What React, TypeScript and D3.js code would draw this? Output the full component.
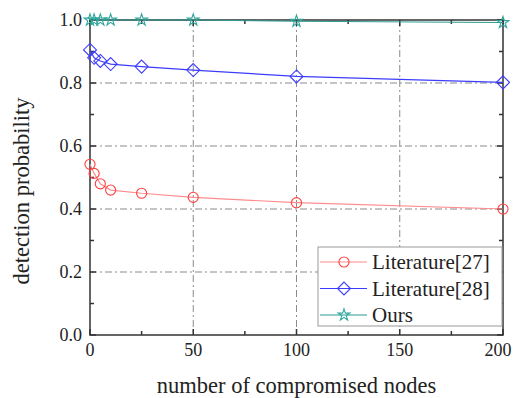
import React, { useEffect, useRef } from "react";
import * as d3 from "d3";

const nodes = [0, 2, 5, 10, 25, 50, 100, 200];
const lit27 = [0.542, 0.513, 0.48, 0.46, 0.45, 0.437, 0.42, 0.4];
const lit28 = [0.905, 0.88, 0.87, 0.86, 0.852, 0.841, 0.821, 0.802];
const ours = [1.0, 1.0, 1.0, 1.0, 1.0, 1.0, 0.996, 0.992];
const xTicks = [0, 50, 100, 150, 200];
const yTicks = [0, 0.2, 0.4, 0.6, 0.8, 1.0];
const seriesNames = ["Literature[27]", "Literature[28]", "Ours"];

export default function App() {
  const ref = useRef<SVGSVGElement | null>(null);

  useEffect(() => {
    const W = 514, H = 398;
    const margin = { top: 20, right: 11, bottom: 63, left: 90 };
    const w = W - margin.left - margin.right;
    const h = H - margin.top - margin.bottom;

    const svg = d3.select(ref.current);
    svg.selectAll("*").remove();
    svg.attr("width", W).attr("height", H).attr("viewBox", `0 0 ${W} ${H}`);

    const g = svg.append("g").attr("transform", `translate(${margin.left},${margin.top})`);
    const x = d3.scaleLinear().domain([0, 200]).range([0, w]);
    const y = d3.scaleLinear().domain([0, 1]).range([h, 0]);
    const font = "'Liberation Serif', 'Times New Roman', serif";
    const axisColor = "#333";

    // grid (dash-dot)
    const grid = g.append("g").attr("stroke", "#8a8a8a").attr("stroke-width", 1).attr("stroke-dasharray", "7,3,2,3");
    [50, 100, 150].forEach(v => grid.append("line").attr("x1", x(v)).attr("x2", x(v)).attr("y1", 0).attr("y2", h));
    [0.2, 0.4, 0.6, 0.8].forEach(v => grid.append("line").attr("x1", 0).attr("x2", w).attr("y1", y(v)).attr("y2", y(v)));

    // frame + inward ticks
    const minorX = d3.range(0, 201, 25);
    const minorY = d3.range(0, 1.001, 0.1);
    const ax = g.append("g").attr("stroke", axisColor).attr("stroke-width", 1.5);
    minorX.forEach((v, i) => {
      const len = i % 2 === 0 ? 6 : 4;
      ax.append("line").attr("x1", x(v)).attr("x2", x(v)).attr("y1", h).attr("y2", h - len);
      ax.append("line").attr("x1", x(v)).attr("x2", x(v)).attr("y1", 0).attr("y2", len);
    });
    minorY.forEach((v, i) => {
      const len = i % 2 === 0 ? 6 : 4;
      ax.append("line").attr("x1", 0).attr("x2", len).attr("y1", y(v)).attr("y2", y(v));
      ax.append("line").attr("x1", w).attr("x2", w - len).attr("y1", y(v)).attr("y2", y(v));
    });
    g.append("rect").attr("x", 0).attr("y", 0).attr("width", w).attr("height", h)
      .attr("fill", "none").attr("stroke", axisColor).attr("stroke-width", 1.5);

    // tick labels (last one kept inside the picture)
    g.append("g").selectAll("text").data(xTicks).enter().append("text")
      .attr("x", d => Math.min(x(d), w + 9 - 14)).attr("y", h + 21).attr("text-anchor", "middle")
      .attr("font-family", font).attr("font-size", 18).attr("fill", "#222").text(d => String(d));
    g.append("g").selectAll("text").data(yTicks).enter().append("text")
      .attr("x", -8).attr("y", d => y(d)).attr("dy", "0.34em").attr("text-anchor", "end")
      .attr("font-family", font).attr("font-size", 18).attr("fill", "#222").text(d => d3.format(".1f")(d));

    // axis titles
    svg.append("text").attr("x", margin.left + w / 2 + 0).attr("y", 393).attr("text-anchor", "middle")
      .attr("font-family", font).attr("font-size", 22.5).attr("fill", "#222").text("number of compromised nodes");
    svg.append("text").attr("transform", `translate(29,${margin.top + 171}) rotate(-90)`).attr("text-anchor", "middle")
      .attr("font-family", font).attr("font-size", 22.5).attr("fill", "#222").text("detection probability");

    const diamond = { draw(ctx: any, size: number) { const r = Math.sqrt(size / 2); ctx.moveTo(0, -r); ctx.lineTo(r, 0); ctx.lineTo(0, r); ctx.lineTo(-r, 0); ctx.closePath(); } };
    const series = [
      { name: seriesNames[0], values: lit27, line: "#ff8c8c", mark: "#ff4040", symbol: d3.symbolCircle as any, size: 80 },
      { name: seriesNames[1], values: lit28, line: "#3c3cff", mark: "#3a3aff", symbol: diamond as any, size: 84 },
      { name: seriesNames[2], values: ours, line: "#2a9a92", mark: "#2fa79d", symbol: d3.symbolStar as any, size: 42 },
    ];

    const line = d3.line<number>().x((_, i) => x(nodes[i])).y(d => y(d));
    const plot = g.append("g");
    series.slice().reverse().forEach(s => {
      plot.append("path").datum(s.values).attr("d", line).attr("fill", "none")
        .attr("stroke", s.line).attr("stroke-width", 1.2);
      plot.selectAll(null).data(s.values).enter().append("path")
        .attr("transform", (d, i) => `translate(${x(nodes[i])},${y(d)})`)
        .attr("d", d3.symbol().type(s.symbol).size(s.size)())
        .attr("fill", "none").attr("stroke", s.mark).attr("stroke-width", 1.1);
    });

    // legend
    const lg = svg.append("g").attr("transform", "translate(318,247)");
    lg.append("rect").attr("width", 184).attr("height", 79).attr("fill", "white").attr("stroke", "#999").attr("stroke-width", 1);
    series.forEach((s, i) => {
      const yy = 15 + i * 26.5;
      lg.append("line").attr("x1", 2).attr("x2", 49).attr("y1", yy).attr("y2", yy).attr("stroke", s.line).attr("stroke-width", 1.2);
      lg.append("path").attr("transform", `translate(26,${yy})`).attr("d", d3.symbol().type(s.symbol).size(s.size)())
        .attr("fill", "none").attr("stroke", s.mark).attr("stroke-width", 1.1);
      lg.append("text").attr("x", 54).attr("y", yy).attr("dy", "0.35em").attr("font-family", font)
        .attr("font-size", 21).attr("fill", "#222").text(s.name);
    });
  }, []);

  return (
    <div style={{ position: "absolute", left: 0, top: 0, width: 514, height: 398, background: "white" }}>
      <svg ref={ref} style={{ display: "block" }} />
    </div>
  );
}
